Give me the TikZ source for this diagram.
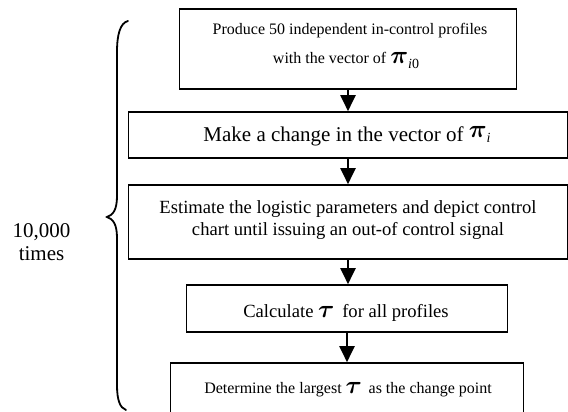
\documentclass[tikz,border=0pt]{standalone}
\usepackage{fontspec}
\setmainfont{Liberation Serif}
\usetikzlibrary{arrows.meta}
\newcommand{\gk}[1]{{\fontsize{26}{26}\selectfont\boldmath$#1$}}
\newcommand{\sbs}[1]{{\fontsize{14}{14}\selectfont #1}}
\tikzset{
  flowbox/.style={draw, line width=1.6pt, inner sep=0pt},
  flowarrow/.style={line width=2pt, -{Triangle[width=15pt,length=16pt]}},
  txt/.style={anchor=base, inner sep=0pt},
  brace/.style={line width=1.8pt, line cap=round}
}
\begin{document}
\begin{tikzpicture}[x=1pt,y=1pt]
\clip (0,0) rectangle (568,-412);
\fill[white] (0,0) rectangle (568,-412);
% boxes
\node[flowbox, minimum width=337pt, minimum height=80pt] (b1) at (348,-49) {};
\node[flowbox, minimum width=439pt, minimum height=46pt] (b2) at (348,-135) {};
\node[flowbox, minimum width=439pt, minimum height=74pt] (b3) at (348,-222) {};
\node[flowbox, minimum width=321pt, minimum height=47pt] (b4) at (347,-308.5) {};
\node[flowbox, minimum width=353pt, minimum height=56pt] (b5) at (347,-391) {};
% texts
\node[txt, font=\fontsize{16}{19}\selectfont] (t1a) at (350,-35) {Produce 50 independent in-control profiles};
\node[txt, font=\fontsize{16}{19}\selectfont] (t1b) at (346,-64) {with the vector of \gk{\pi}\raisebox{-5pt}{\sbs{\textit{i}0}}};
\node[txt, font=\fontsize{21}{24}\selectfont] (t2) at (347,-141) {Make a change in the vector of \raisebox{4pt}{\gk{\pi}}\raisebox{-1pt}{\sbs{\textit{i}}}};
\node[txt, font=\fontsize{18.6}{22}\selectfont] (t3a) at (348,-213) {Estimate the logistic parameters and depict control};
\node[txt, font=\fontsize{18.6}{22}\selectfont] (t3b) at (348,-235) {chart until issuing an out-of control signal};
\node[txt, font=\fontsize{18.6}{22}\selectfont] (t4) at (346,-317) {Calculate \gk{\tau}\, for all profiles};
\node[txt, font=\fontsize{16}{19}\selectfont] (t5) at (348,-393) {Determine the largest \gk{\tau}\, as the change point};
\node[txt, font=\fontsize{21}{24}\selectfont] (n1) at (41.5,-237) {10,000};
\node[txt, font=\fontsize{21}{24}\selectfont] (n2) at (41.5,-260) {times};
% arrows
\draw[flowarrow] (b1.south) -- (b2.north);
\draw[flowarrow] (b2.south) -- (b3.north);
\draw[flowarrow] (b3.south) -- (b3.south |- b4.north);
\draw[flowarrow] (b4.south) -- (b4.south |- b5.north);
% brace
\coordinate (bt) at (128,-21);
\coordinate (bm) at (107,-217);
\coordinate (bb) at (126,-410);
\draw[brace] (bt) .. controls (120,-23) and (117,-35) .. (117,-52) -- (117,-196)
  .. controls (117,-210) and (113,-215) .. (bm)
  .. controls (113,-219) and (117,-224) .. (117,-238) -- (117,-385)
  .. controls (117,-400) and (120,-408) .. (bb);
\end{tikzpicture}
\end{document}
